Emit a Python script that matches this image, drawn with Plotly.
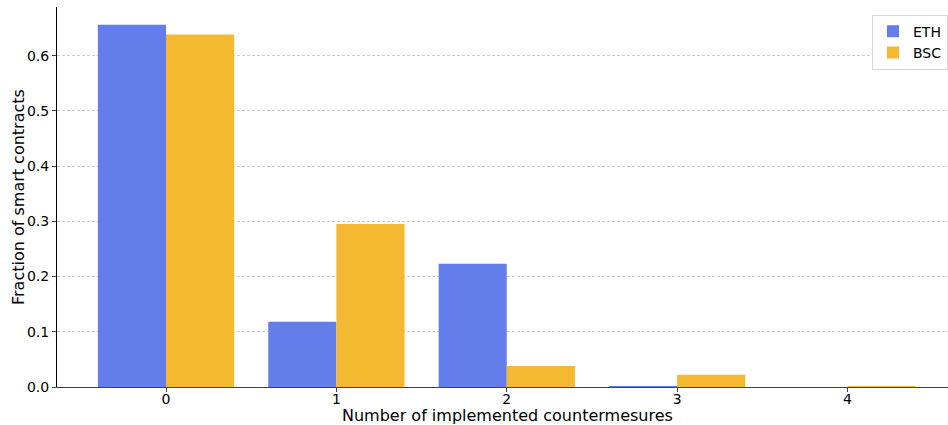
import plotly.graph_objects as go

categories = [0, 1, 2, 3, 4]
eth = [0.656, 0.118, 0.223, 0.001, 0.0]
bsc = [0.638, 0.295, 0.038, 0.022, 0.001]
x_title = "Number of implemented countermesures"
y_title = "Fraction of smart contracts"

fig = go.Figure()
fig.add_trace(go.Bar(x=categories, y=eth, name="ETH", marker=dict(color="#637EEB", line=dict(width=0))))
fig.add_trace(go.Bar(x=categories, y=bsc, name="BSC", marker=dict(color="#F4B930", line=dict(width=0))))

L, T, B = 57, 7, 38
W, H = 948, 425
pw, ph = W - L, H - T - B

fig.update_layout(
    width=W, height=H,
    margin=dict(l=L, r=0, t=T, b=B),
    paper_bgcolor="white", plot_bgcolor="white",
    barmode="group", bargap=0.2, bargroupgap=0,
    font=dict(family="DejaVu Sans", size=14, color="black"),
    legend=dict(x=1, y=0.98, xanchor="right", yanchor="top",
                bordercolor="#d8d8d8", borderwidth=1, bgcolor="white",
                font=dict(size=14)),
    showlegend=True,
    annotations=[
        dict(text=x_title, xref="paper", yref="paper", x=(507 - L) / pw, y=-(416 - (H - B)) / ph,
             xanchor="center", yanchor="middle", showarrow=False, font=dict(size=16)),
        dict(text=y_title, xref="paper", yref="paper", x=-(L - 18) / pw, y=(H - B - 197) / ph,
             xanchor="center", yanchor="middle", showarrow=False, textangle=-90, font=dict(size=16)),
    ],
)
fig.update_xaxes(
    range=[-0.64, 4.59], tickvals=categories, ticktext=[str(c) for c in categories],
    tickfont=dict(size=14), ticklabelstandoff=-5,
    showline=True, linecolor="#444", linewidth=1, ticks="outside", ticklen=4, tickcolor="#444",
    showgrid=False, zeroline=False, automargin=False,
)
fig.update_yaxes(
    range=[0, 0.688], tickvals=[0, 0.1, 0.2, 0.3, 0.4, 0.5, 0.6],
    tickformat=".1f", tickfont=dict(size=14),
    showline=True, linecolor="black", linewidth=1, ticks="outside", ticklen=4,
    showgrid=True, gridcolor="#cccccc", griddash="3px,2px", gridwidth=0.6,
    zeroline=False, automargin=False,
)
fig.write_html("out.html")
